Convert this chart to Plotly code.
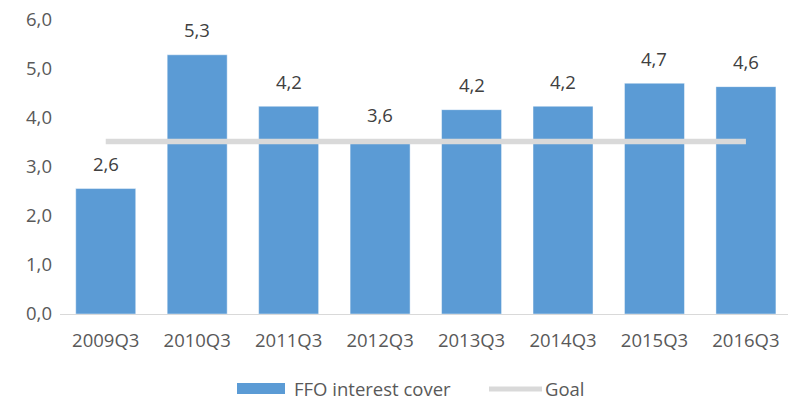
import plotly.graph_objects as go

categories = ["2009Q3", "2010Q3", "2011Q3", "2012Q3", "2013Q3", "2014Q3", "2015Q3", "2016Q3"]
ffo_interest_cover = [2.56, 5.29, 4.24, 3.56, 4.17, 4.24, 4.71, 4.64]
goal = [3.52] * len(categories)
y_ticks = [0, 1, 2, 3, 4, 5, 6]
series_names = ["FFO interest cover", "Goal"]

FONT = "Open Sans"
FSIZE = 18.5
BAR_COLOR = "#5b9bd5"
GOAL_COLOR = "#d9d9d9"

# plot area in pixels (for legend placement helpers)
L, R, T, B, W, H = 60, 0, 20, 87, 788, 401
PW, PH = W - L - R, H - T - B
LEG_Y = 388


def px(x):
    return (x - L) / PW


def py(y):
    return (H - B - y) / PH


fig = go.Figure()
fig.add_trace(go.Bar(
    x=categories, y=ffo_interest_cover, name=series_names[0],
    marker=dict(color=BAR_COLOR, line=dict(color="rgba(255,255,255,0.45)", width=1)),
    hoverinfo="skip", showlegend=False,
))
fig.add_trace(go.Scatter(
    x=categories, y=goal, name=series_names[1], mode="lines",
    line=dict(color=GOAL_COLOR, width=5.5),
    hoverinfo="skip", showlegend=False,
))

for c, v in zip(categories, ffo_interest_cover):
    fig.add_annotation(
        x=c, y=v, text=f"{v:.1f}".replace(".", ","), showarrow=False,
        yanchor="bottom", yshift=10.5,
        font=dict(family=FONT, size=FSIZE, color="#404040"),
    )

# custom legend (Excel-style wide swatches)
fig.add_shape(type="rect", xref="paper", yref="paper",
              x0=px(237), x1=px(285), y0=py(LEG_Y + 6), y1=py(LEG_Y - 5),
              fillcolor=BAR_COLOR, line=dict(width=0))
fig.add_annotation(xref="paper", yref="paper", x=px(292), y=py(LEG_Y),
                   xanchor="left", yanchor="middle", showarrow=False,
                   text=series_names[0],
                   font=dict(family=FONT, size=FSIZE, color="#595959"))
fig.add_shape(type="line", xref="paper", yref="paper",
              x0=px(489), x1=px(542), y0=py(LEG_Y + 1), y1=py(LEG_Y + 1),
              line=dict(color=GOAL_COLOR, width=5))
fig.add_annotation(xref="paper", yref="paper", x=px(543), y=py(LEG_Y),
                   xanchor="left", yanchor="middle", showarrow=False,
                   text=series_names[1],
                   font=dict(family=FONT, size=FSIZE, color="#595959"))

fig.update_layout(
    width=W, height=H,
    margin=dict(l=L, r=R, t=T, b=B),
    plot_bgcolor="white", paper_bgcolor="white",
    separators=", ",
    bargap=0.344,
    font=dict(family=FONT, size=FSIZE, color="#595959"),
    showlegend=False,
    xaxis=dict(
        range=[-0.5, 7.46], showgrid=False, zeroline=False,
        showline=True, linecolor="#d9d9d9", linewidth=1,
        ticks="", ticklabelstandoff=10,
    ),
    yaxis=dict(
        range=[0, 6], tickvals=y_ticks, tickformat=".1f",
        showgrid=False, zeroline=False, showline=False,
        ticks="", ticklabelstandoff=7,
    ),
)

fig.write_html("out.html")
